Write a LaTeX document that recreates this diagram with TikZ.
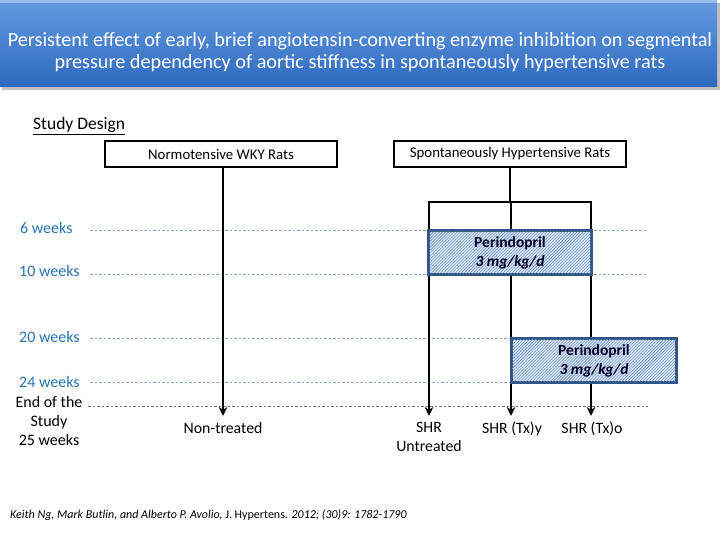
\documentclass[tikz,border=0pt]{standalone}
\usepackage{fontspec}
\setmainfont{Carlito}
\usetikzlibrary{arrows.meta,patterns}
\definecolor{weekblue}{RGB}{35,115,180}
\definecolor{dashblue}{RGB}{125,160,195}
\definecolor{dashgray}{RGB}{110,110,120}
\definecolor{hatchblue}{RGB}{95,135,190}
\definecolor{boxblue}{RGB}{215,228,244}
\definecolor{boxedge}{RGB}{50,85,135}
\definecolor{bannertop}{RGB}{100,155,225}
\definecolor{bannerbot}{RGB}{45,105,190}
\begin{document}
\begin{tikzpicture}[x=1bp,y=-1bp,
  groupbox/.style={draw=black,line width=1.8bp,minimum width=232bp,minimum height=26bp,inner sep=0pt,fill=white,font=\fontsize{14.8bp}{17bp}\selectfont},
  drugbox/.style={draw=boxedge,line width=1.6bp,fill=boxblue,inner sep=0pt},
  drughatch/.style={pattern=north east lines,pattern color=hatchblue},
  flow/.style={line width=2.7bp,draw=black},
  flowarrow/.style={flow,-{Stealth[length=9bp,width=8.5bp]}},
  weeklabel/.style={anchor=west,text=weekblue,font=\fontsize{16bp}{19bp}\selectfont,inner sep=0pt},
  timeline/.style={draw=dashblue,line width=1bp,dash pattern=on 2.5bp off 2bp},
  endline/.style={draw=dashgray,line width=1bp,dash pattern=on 2.5bp off 2bp},
  outlabel/.style={align=center,font=\fontsize{15.8bp}{19bp}\selectfont,inner sep=0pt,anchor=north},
  drugtext/.style={align=center,font=\fontsize{15.5bp}{19bp}\selectfont\bfseries,text=black!85!blue}
]
\useasboundingbox (0,0) rectangle (720,540);
% title banner
\fill[black!25] (2,3) rectangle (720,90);
\shade[top color=bannertop,bottom color=bannerbot] (0,0) rectangle (717,87);
\fill[white,opacity=0.35] (0,0) rectangle (717,3);
\node[text=white,align=center,font=\fontsize{20.2bp}{22bp}\selectfont] (title) at (360,52)
 {Persistent effect of early, brief angiotensin-converting enzyme inhibition on segmental\\
  pressure dependency of aortic stiffness in spontaneously hypertensive rats};
% study design
\node[anchor=west,inner sep=0pt,font=\fontsize{17.5bp}{20bp}\selectfont] (sd) at (33,126) {\underline{Study Design}};
% timeline
\node[weeklabel] (w6) at (20,228) {6 weeks};
\node[weeklabel] (w10) at (19,271) {10 weeks};
\node[weeklabel] (w20) at (19,337) {20 weeks};
\node[weeklabel] (w24) at (19,382) {24 weeks};
\node[align=center,inner sep=0pt,font=\fontsize{16bp}{19bp}\selectfont] (wend) at (49,421) {End of the\\Study\\25 weeks};
\draw[timeline] (90,231) -- (648,231);
\draw[timeline] (90,274) -- (648,274);
\draw[timeline] (90,338) -- (648,338);
\draw[timeline] (90,382) -- (648,382);
\draw[endline] (88,406) -- (648,406);
% group boxes
\node[groupbox] (wky) at (221,154) {Normotensive WKY Rats};
\node[groupbox] (shr) at (510,154) {Spontaneously Hypertensive Rats};
% coordinates
\coordinate (j) at (510,202);
\coordinate (jl) at (429,202);
\coordinate (jm) at (511,202);
\coordinate (jr) at (591,202);
\coordinate (e0) at (223,416);
\coordinate (e1) at (429,416);
\coordinate (e2) at (511,416);
\coordinate (e3) at (591,416);
% flows
\draw[flowarrow] (wky.south -| e0) -- (e0);
\draw[flow] (shr.south) -- (j);
\draw[flow,line cap=rect] (jl) -- (jr);
\draw[flowarrow] (jl) -- (e1);
\draw[flowarrow] (jm) -- (e2);
\draw[flowarrow] (jr) -- (e3);
% drug boxes
\node[drugbox,minimum width=162bp,minimum height=43bp] (p1) at (510,252.5) {};
\fill[drughatch] (p1.south west) rectangle (p1.north east);
\draw[boxedge,line width=1.6bp] (p1.south west) rectangle (p1.north east);
\node[drugtext] at (p1.center) {Perindopril\\\textit{3 mg/kg/d}};
\node[drugbox,minimum width=164bp,minimum height=43bp] (p2) at (594,360.5) {};
\fill[drughatch] (p2.south west) rectangle (p2.north east);
\draw[boxedge,line width=1.6bp] (p2.south west) rectangle (p2.north east);
\node[drugtext] at (p2.center) {Perindopril\\\textit{3 mg/kg/d}};
% outcome labels
\node[outlabel] (o0) at (223,422) {Non-treated};
\node[outlabel] (o1) at (429,422) {SHR\\Untreated};
\node[outlabel] (o2) at (512,422) {SHR (Tx)y};
\node[outlabel] (o3) at (592,422) {SHR (Tx)o};
% citation
\node[anchor=west,inner sep=0pt,font=\fontsize{12bp}{14bp}\selectfont] (cite) at (10,515)
 {\textit{Keith Ng, Mark Butlin, and Alberto P. Avolio,} J. Hypertens. \textit{2012; (30)9: 1782-1790}};
\end{tikzpicture}
\end{document}
